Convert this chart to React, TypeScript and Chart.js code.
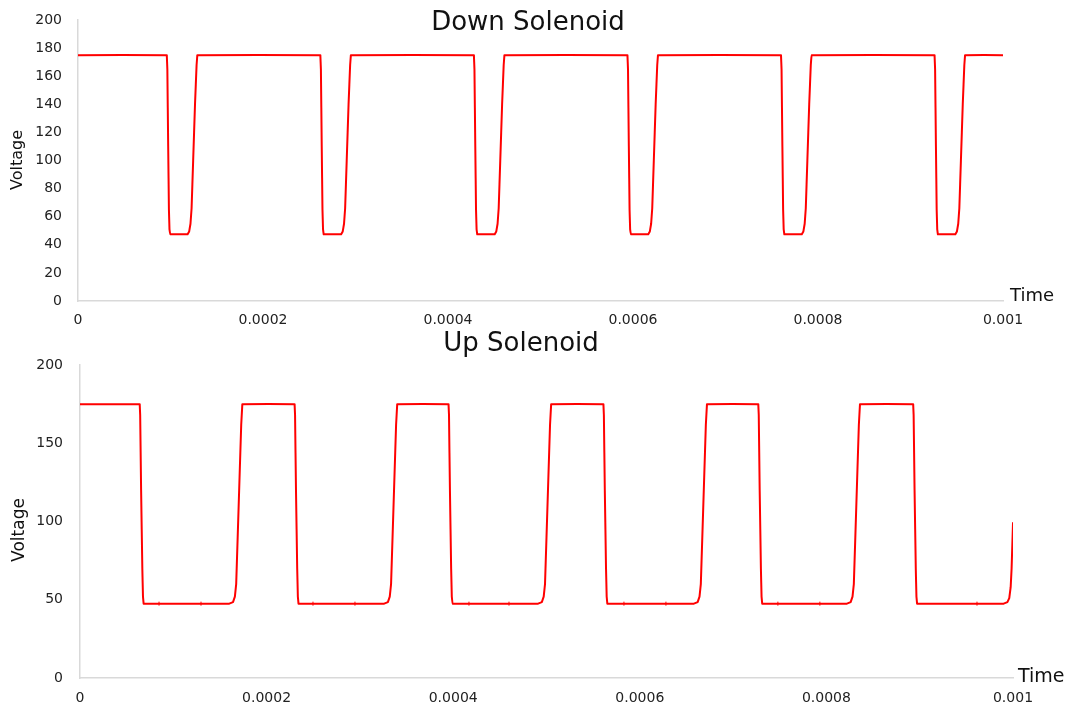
import React, { useEffect, useRef } from "react";
import { Chart, registerables } from "chart.js";

Chart.register(...registerables);

const FONT = '"DejaVu Sans", sans-serif';
const LINE_RED = "#ff0000";

// Shared time axis (seconds)
const timeTicks = [0, 0.0002, 0.0004, 0.0006, 0.0008, 0.001];
const timeTickLabels = ["0", "0.0002", "0.0004", "0.0006", "0.0008", "0.001"];

// Voltage axes
const downVoltTicks = [0, 20, 40, 60, 80, 100, 120, 140, 160, 180, 200];
const upVoltTicks = [0, 50, 100, 150, 200];

// Down solenoid trace: time in microseconds, voltage in volts
const downTimeUs = [
  0,
  96, 96.6, 97.5, 98.3, 98.9, 99.6, 118.5, 120.2, 121.6, 122.8, 124.5, 126.5, 128.2, 129,
  262, 262.6, 263.5, 264.3, 264.9, 265.6, 284.5, 286.2, 287.6, 288.8, 290.5, 292.5, 294.2, 295,
  428, 428.6, 429.5, 430.3, 430.9, 431.6, 450.5, 452.2, 453.6, 454.8, 456.5, 458.5, 460.2, 461,
  594, 594.6, 595.5, 596.3, 596.9, 597.6, 616.5, 618.2, 619.6, 620.8, 622.5, 624.5, 626.2, 627,
  760, 760.6, 761.5, 762.3, 762.9, 763.6, 782.5, 784.2, 785.6, 786.8, 788.5, 790.5, 792.2, 793,
  926, 926.6, 927.5, 928.3, 928.9, 929.6, 948.5, 950.2, 951.6, 952.8, 954.5, 956.5, 958.2, 959,
  1000,
];
const downVoltage = [
  175,
  175, 165, 110, 65, 51, 47.5, 47.5, 49.5, 55, 66, 100, 140, 168, 175,
  175, 165, 110, 65, 51, 47.5, 47.5, 49.5, 55, 66, 100, 140, 168, 175,
  175, 165, 110, 65, 51, 47.5, 47.5, 49.5, 55, 66, 100, 140, 168, 175,
  175, 165, 110, 65, 51, 47.5, 47.5, 49.5, 55, 66, 100, 140, 168, 175,
  175, 165, 110, 65, 51, 47.5, 47.5, 49.5, 55, 66, 100, 140, 168, 175,
  175, 165, 110, 65, 51, 47.5, 47.5, 49.5, 55, 66, 100, 140, 168, 175,
  175,
];

// Up solenoid trace: time in microseconds, voltage in volts
const upTimeUs = [
  0,
  64, 64.5, 65.5, 66.8, 67.5, 68.2,
  160, 164, 166, 167.4, 169, 171, 172.8, 174,
  230, 230.5, 231.5, 232.8, 233.5, 234.2,
  326, 330, 332, 333.4, 335, 337, 338.8, 340,
  395, 395.5, 396.5, 397.8, 398.5, 399.2,
  491, 495, 497, 498.4, 500, 502, 503.8, 505,
  561, 561.5, 562.5, 563.8, 564.5, 565.2,
  658, 662, 664, 665.4, 667, 669, 670.8, 672,
  727, 727.5, 728.5, 729.8, 730.5, 731.2,
  822, 826, 828, 829.4, 831, 833, 834.8, 836,
  893, 893.5, 894.5, 895.8, 896.5, 897.2,
  990, 994, 996, 997.5, 998.5, 1000,
];
const upVoltage = [
  175,
  175, 168, 120, 70, 52, 47.5,
  47.5, 48.5, 52, 60, 90, 128, 162, 175,
  175, 168, 120, 70, 52, 47.5,
  47.5, 48.5, 52, 60, 90, 128, 162, 175,
  175, 168, 120, 70, 52, 47.5,
  47.5, 48.5, 52, 60, 90, 128, 162, 175,
  175, 168, 120, 70, 52, 47.5,
  47.5, 48.5, 52, 60, 90, 128, 162, 175,
  175, 168, 120, 70, 52, 47.5,
  47.5, 48.5, 52, 60, 90, 128, 162, 175,
  175, 168, 120, 70, 52, 47.5,
  47.5, 48.5, 51, 58, 70, 99,
];

// Sample markers sitting on the low level of the up trace
const upMarkerTimeUs = [84.7, 129.7, 249.7, 294.7, 416.9, 459.8, 583, 628, 748, 793, 961.4];
const upMarkerVoltage = [47.5, 47.5, 47.5, 47.5, 47.5, 47.5, 47.5, 47.5, 47.5, 47.5, 47.5];

type Panel = {
  title: string;
  titleX: number;
  titleBaseline: number;
  yTitleX: number;
  yTitleY: number;
  yTitleSize: number;
  xTitleX: number;
  xTitleY: number;
  xTitleSize: number;
  area: { left: number; right: number; top: number; bottom: number };
  canvasTop: number;
  canvasHeight: number;
  yTicks: number[];
  yLabelPad: number;
  xLabelPad: number;
  times: number[];
  volts: number[];
  markerTimes?: number[];
  markerVolts?: number[];
};

const WIDTH = 1069;

const downPanel: Panel = {
  title: "Down Solenoid",
  titleX: 528,
  titleBaseline: 30,
  yTitleX: 18,
  yTitleY: 160,
  yTitleSize: 16,
  xTitleX: 1010,
  xTitleY: 296,
  xTitleSize: 18,
  area: { left: 78, right: 1003, top: 20, bottom: 301 },
  canvasTop: 0,
  canvasHeight: 335,
  yTicks: downVoltTicks,
  yLabelPad: 16,
  xLabelPad: 11,
  times: downTimeUs,
  volts: downVoltage,
};

const upPanel: Panel = {
  title: "Up Solenoid",
  titleX: 521,
  titleBaseline: 31,
  yTitleX: 20,
  yTitleY: 210,
  yTitleSize: 17,
  xTitleX: 1018,
  xTitleY: 357,
  xTitleSize: 19,
  area: { left: 80, right: 1013, top: 45, bottom: 358 },
  canvasTop: 320,
  canvasHeight: 390,
  yTicks: upVoltTicks,
  yLabelPad: 17,
  xLabelPad: 12,
  times: upTimeUs,
  volts: upVoltage,
  markerTimes: upMarkerTimeUs,
  markerVolts: upMarkerVoltage,
};

function SolenoidChart({ panel }: { panel: Panel }) {
  const ref = useRef<HTMLCanvasElement | null>(null);

  useEffect(() => {
    if (!ref.current) return;
    const p = panel;
    const points = p.times.map((t, i) => ({ x: t * 1e-6, y: p.volts[i] }));
    const datasets: any[] = [
      {
        data: points,
        borderColor: LINE_RED,
        backgroundColor: LINE_RED,
        borderWidth: 2,
        borderJoinStyle: "round",
        borderCapStyle: "round",
        pointRadius: 0,
        // a tiny tension keeps every vertex (no per-pixel collapsing of steep edges)
        tension: 0.000001,
        fill: false,
      },
    ];
    if (p.markerTimes && p.markerVolts) {
      datasets.push({
        data: p.markerTimes.map((t, i) => ({ x: t * 1e-6, y: p.markerVolts![i] })),
        showLine: false,
        borderColor: LINE_RED,
        backgroundColor: LINE_RED,
        borderWidth: 1,
        pointStyle: "line",
        pointRotation: 90,
        pointRadius: 2,
      });
    }

    const textPlugin = {
      id: "panelText",
      afterDraw(chart: any) {
        const ctx = chart.ctx as CanvasRenderingContext2D;
        ctx.save();
        ctx.fillStyle = "#111111";
        ctx.font = `26px ${FONT}`;
        ctx.textAlign = "center";
        ctx.textBaseline = "alphabetic";
        ctx.fillText(p.title, p.titleX, p.titleBaseline);

        ctx.font = `${p.xTitleSize}px ${FONT}`;
        ctx.textAlign = "left";
        ctx.textBaseline = "middle";
        ctx.fillText("Time", p.xTitleX, p.xTitleY);

        ctx.translate(p.yTitleX, p.yTitleY);
        ctx.rotate(-Math.PI / 2);
        ctx.font = `${p.yTitleSize}px ${FONT}`;
        ctx.textAlign = "center";
        ctx.textBaseline = "middle";
        ctx.fillText("Voltage", 0, 0);
        ctx.restore();
      },
    };

    const chart = new Chart(ref.current, {
      type: "line",
      data: { datasets },
      plugins: [textPlugin],
      options: {
        animation: false,
        responsive: true,
        maintainAspectRatio: false,
        layout: {
          padding: { left: 0, right: WIDTH - p.area.right, top: p.area.top, bottom: 0 },
        },
        plugins: { legend: { display: false }, tooltip: { enabled: false }, title: { display: false } },
        scales: {
          x: {
            type: "linear",
            min: 0,
            max: 0.001,
            grid: { display: false, drawTicks: false },
            border: { display: true, color: "#d9d9d9", width: 1.5 },
            ticks: {
              autoSkip: false,
              maxRotation: 0,
              padding: p.xLabelPad,
              color: "#222222",
              font: { family: FONT, size: 14 },
              callback: (v: any) => {
                const idx = timeTicks.findIndex((t) => Math.abs(t - Number(v)) < 1e-9);
                return idx >= 0 ? timeTickLabels[idx] : "";
              },
            },
            afterBuildTicks: (scale: any) => {
              scale.ticks = timeTicks.map((v) => ({ value: v }));
            },
            afterFit: (scale: any) => {
              scale.height = p.canvasHeight - p.area.bottom;
              scale.paddingLeft = 0;
              scale.paddingRight = 0;
            },
          },
          y: {
            type: "linear",
            min: 0,
            max: 200,
            grid: { display: false, drawTicks: false },
            border: { display: true, color: "#d9d9d9", width: 1.5 },
            ticks: {
              autoSkip: false,
              padding: p.yLabelPad,
              color: "#222222",
              font: { family: FONT, size: 14 },
            },
            afterBuildTicks: (scale: any) => {
              scale.ticks = p.yTicks.map((v) => ({ value: v }));
            },
            afterFit: (scale: any) => {
              scale.width = p.area.left;
              scale.paddingTop = 0;
              scale.paddingBottom = 0;
            },
          },
        },
      },
    } as any);

    return () => chart.destroy();
  }, [panel]);

  return (
    <div
      style={{
        position: "absolute",
        left: 0,
        top: panel.canvasTop,
        width: WIDTH,
        height: panel.canvasHeight,
      }}
    >
      <canvas ref={ref} />
    </div>
  );
}

export default function App() {
  return (
    <div
      style={{
        position: "absolute",
        left: 0,
        top: 0,
        width: WIDTH,
        height: 710,
        background: "#ffffff",
        overflow: "hidden",
      }}
    >
      <SolenoidChart panel={downPanel} />
      <SolenoidChart panel={upPanel} />
    </div>
  );
}
